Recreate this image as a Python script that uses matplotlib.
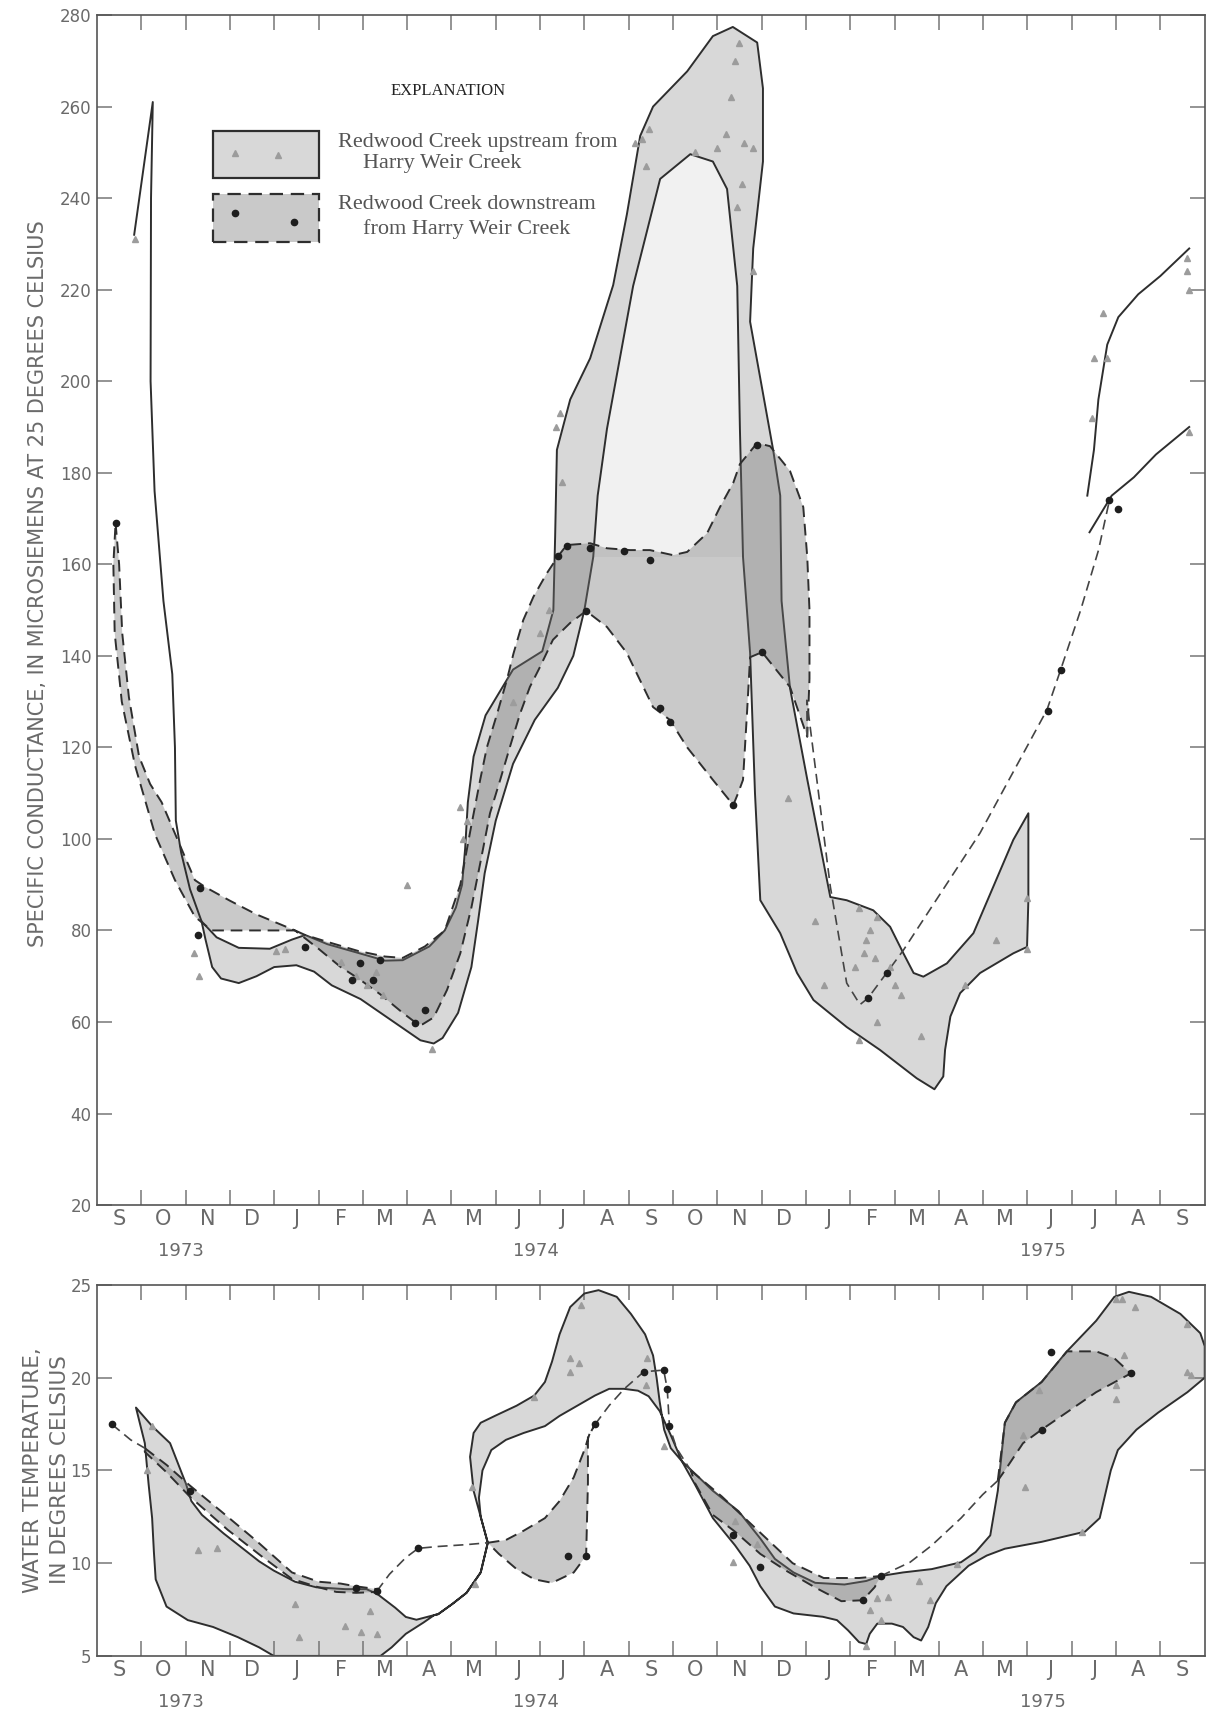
import matplotlib

matplotlib.use("Agg")
import matplotlib.pyplot as plt
from matplotlib.transforms import blended_transform_factory
import numpy as np

plt.rcParams["font.family"] = ["Liberation Sans Narrow", "DejaVu Sans"]

# x unit: months since 1 Sep 1973 (0..25)
MONTHS = list("SONDJFMAMJJASONDJFMAMJJAS")
YEARS = ["1973", "1974", "1975"]
YEAR_X = [1.9, 9.9, 21.35]

# ---------------- specific conductance (top panel) ----------------
COND_TICKS = list(range(20, 281, 20))

# early single line, upstream site (Sep-Nov 1973)
UP_SPIKE = [(0.84, 232), (1.26, 261), (1.22, 240), (1.21, 200), (1.3, 176), (1.5, 152),
            (1.7, 136), (1.76, 120), (1.78, 104), (1.9, 97), (2.1, 89), (2.36, 82)]

# upstream envelope: upper edge left->right, lower edge back
UP_BAND = [(2.36, 82), (2.7, 78.5), (3.2, 76.2), (3.9, 76.0), (4.4, 78.0), (4.7, 79.0), (5.2, 77.0),
           (6.0, 74.8), (6.5, 73.4), (6.9, 73.5), (7.5, 76.5), (7.85, 80.0), (8.1, 85.0), (8.24, 90.0),
           (8.31, 98.0), (8.37, 108.0), (8.5, 118.0), (8.77, 127.0), (9.39, 137.0), (10.05, 141.0),
           (10.3, 150.0), (10.34, 166.0), (10.38, 185.0), (10.68, 196.0), (11.13, 205.0), (11.65, 221.0),
           (11.96, 236.5), (12.26, 253.6), (12.55, 260.0), (13.32, 267.7), (13.9, 275.4), (14.35, 277.4),
           (14.9, 274.0), (15.03, 264.0), (15.03, 248.0), (14.81, 229.0), (14.74, 213.0), (15.03, 197.4),
           (15.26, 185.0), (15.42, 175.0), (15.45, 152.0), (15.64, 133.0), (16.03, 113.0), (16.55, 87.3),
           (16.92, 86.6), (17.52, 84.4), (17.9, 80.8), (18.2, 75.0), (18.43, 70.7), (18.65, 69.9),
           (19.18, 72.8), (19.78, 79.4), (20.23, 89.6), (20.68, 99.8), (21.02, 105.6),
           (21.02, 86.6), (20.99, 76.4), (20.68, 75.0), (19.93, 70.7), (19.48, 66.3), (19.26, 61.2),
           (19.14, 53.9), (19.1, 48.1), (18.9, 45.3), (18.5, 47.7), (17.67, 53.9), (16.92, 58.9),
           (16.17, 64.8), (15.8, 70.7), (15.42, 79.4), (14.97, 86.6), (14.85, 110.0), (14.74, 140.6),
           (14.58, 161.6), (14.51, 189.6), (14.45, 220.8), (14.22, 242.0), (13.9, 248.0), (13.39, 249.6),
           (12.71, 244.2), (12.1, 220.8), (11.51, 189.6), (11.3, 175.0), (11.2, 161.6), (11.0, 150.0),
           (10.75, 140.0), (10.4, 133.0), (9.88, 126.0), (9.39, 116.4), (9.0, 104.0), (8.75, 92.5),
           (8.6, 82.0), (8.45, 72.0), (8.15, 62.0), (7.8, 56.5), (7.6, 55.3), (7.3, 56.0), (6.7, 60.0),
           (5.95, 65.0), (5.3, 68.0), (4.9, 71.0), (4.5, 72.4), (4.0, 72.0), (3.6, 70.0), (3.2, 68.5),
           (2.8, 69.5), (2.6, 72.0), (2.45, 78.0)]

# pale interior of the 1974 peak
UP_INNER = [(11.2, 161.6), (11.3, 175.0), (11.51, 189.6), (12.1, 220.8), (12.71, 244.2), (13.39, 249.6),
            (13.9, 248.0), (14.22, 242.0), (14.45, 220.8), (14.51, 189.6), (14.58, 161.6)]

UP_LINE_A = [(22.35, 175), (22.5, 185), (22.6, 196), (22.8, 208), (23.05, 214), (23.5, 219),
             (24.0, 223), (24.65, 229)]
UP_LINE_B = [(22.4, 167), (22.9, 175), (23.4, 179), (23.9, 184), (24.65, 190)]

# downstream envelopes
DN_BAND_1 = [(0.42, 169.0), (0.5, 160.0), (0.57, 145.0), (0.72, 131.0), (0.95, 118.0), (1.2, 112.0),
             (1.46, 108.0), (1.9, 98.0), (2.21, 91.0), (2.44, 89.5), (3.0, 86.5), (3.6, 83.5), (4.47, 80.0),
             (3.5, 80.0), (2.59, 80.0), (2.21, 83.0), (1.76, 91.0), (1.31, 101.0), (0.86, 116.0),
             (0.56, 130.0), (0.4, 145.0), (0.37, 160.0)]

DN_BAND_2 = [(4.47, 80.0), (4.7, 79.0), (5.2, 77.5), (5.9, 75.5), (6.5, 74.3), (6.9, 74.0), (7.4, 76.5),
             (7.85, 80.0), (8.2, 90.0), (8.45, 103.0), (8.65, 113.0), (8.8, 120.0), (9.02, 127.0),
             (9.25, 134.7), (9.4, 140.5), (9.62, 147.8), (9.85, 152.9), (10.15, 158.0), (10.41, 161.8),
             (10.6, 164.2), (11.13, 164.6), (11.51, 163.5), (12.03, 163.1), (12.48, 163.1), (13.0, 162.0),
             (13.32, 162.7), (13.77, 166.8), (14.06, 172.5), (14.36, 177.8), (14.51, 181.9), (14.9, 186.5),
             (15.19, 185.8), (15.64, 180.4), (15.94, 172.5), (16.03, 161.6), (16.08, 150.0), (16.08, 135.0),
             (16.03, 122.3), (15.64, 133.2), (15.01, 140.8), (14.74, 139.7), (14.67, 127.5), (14.58, 112.9),
             (14.47, 110.0), (14.36, 107.4), (13.9, 112.9), (13.32, 120.0), (12.93, 126.0), (12.55, 128.8),
             (11.96, 140.6), (11.51, 146.3), (11.04, 149.8), (10.68, 147.2), (10.29, 143.5), (10.0, 137.6),
             (9.77, 133.2), (9.55, 127.4), (9.32, 120.1), (9.1, 112.9), (8.87, 105.6), (8.65, 94.7),
             (8.45, 85.0), (8.2, 75.0), (7.9, 67.0), (7.6, 61.0), (7.35, 59.5), (7.2, 59.8), (6.9, 62.0),
             (6.4, 66.0), (5.9, 69.5), (5.5, 72.0), (5.0, 76.0)]

DN_LINE = [(16.03, 122.3), (16.02, 130.3), (16.55, 89.6), (16.92, 68.5), (17.22, 63.8), (17.4, 65.2),
           (17.82, 70.7), (18.2, 75.7), (19.93, 101.3), (21.44, 128.2), (21.75, 137.0), (22.2, 150.0),
           (22.6, 163.0), (22.85, 174.0)]

COND_UP_PTS = [(0.85, 231), (2.2, 75), (2.3, 70), (4.05, 75.5), (4.25, 76), (5.5, 73), (5.85, 70),
               (6.1, 68), (6.3, 71), (6.45, 66), (7.55, 54), (7.0, 90), (8.2, 107), (8.35, 104),
               (8.25, 100), (9.4, 130), (10.0, 145), (10.2, 150), (10.35, 190), (10.45, 193), (10.5, 178),
               (12.15, 252), (12.3, 253), (12.45, 255), (12.4, 247), (13.5, 250), (14.0, 251), (14.2, 254),
               (14.6, 252), (14.8, 251), (14.55, 243), (14.45, 238), (14.3, 262), (14.4, 270), (14.5, 274),
               (14.8, 224), (15.6, 109), (16.2, 82), (16.4, 68), (17.2, 85), (17.6, 83), (17.35, 78),
               (17.45, 80), (17.3, 75), (17.55, 74), (17.1, 72), (17.9, 72), (18.0, 68), (18.15, 66),
               (17.2, 56), (17.6, 60), (18.6, 57), (19.6, 68), (20.3, 78), (21.0, 76), (21.0, 87),
               (22.45, 192), (22.5, 205), (22.7, 215), (22.8, 205), (24.6, 227), (24.65, 220),
               (24.6, 224), (24.65, 189)]
COND_DN_PTS = [(0.42, 169), (2.33, 89.3), (2.29, 79), (4.7, 76.4), (5.94, 72.8), (6.39, 73.5),
               (5.75, 69.2), (6.24, 69.2), (7.18, 59.8), (7.4, 62.6), (10.41, 161.8), (10.6, 164),
               (11.13, 163.5), (11.9, 162.8), (12.48, 161), (12.71, 128.6), (12.93, 125.5), (11.04, 149.8),
               (14.36, 107.4), (14.9, 186), (15.01, 140.8), (17.4, 65.2), (17.82, 70.6), (21.46, 128),
               (21.75, 137), (22.85, 174), (23.05, 172)]

# ---------------- water temperature (bottom panel) ----------------
TEMP_TICKS = [5, 10, 15, 20, 25]

TEMP_UP_BAND = [(0.88, 18.39), (1.245, 17.39), (1.65, 16.47), (1.89, 15.0), (2.01, 14.27), (2.13, 13.35),
                (2.37, 12.6), (2.86, 11.6), (3.34, 10.7), (3.66, 10.1), (3.99, 9.6), (4.47, 9.0),
                (4.95, 8.7), (5.28, 8.65), (5.6, 8.6), (6.08, 8.6), (6.32, 8.35), (6.73, 7.6),
                (6.97, 7.1), (7.21, 6.95), (7.53, 7.15), (7.7, 7.25), (8.02, 7.8), (8.34, 8.4),
                (8.66, 9.5), (8.82, 11.1), (8.66, 12.5), (8.5, 13.9), (8.42, 15.73), (8.5, 17.02),
                (8.66, 17.57), (8.98, 17.94), (9.47, 18.49), (9.87, 19.04), (10.11, 19.77), (10.27, 20.87),
                (10.44, 22.34), (10.68, 23.81), (11.0, 24.54), (11.32, 24.72), (11.73, 24.36), (12.05, 23.44),
                (12.37, 22.34), (12.55, 21.2), (12.63, 20.0), (12.7, 18.7), (12.8, 17.2), (12.95, 16.2),
                (13.2, 15.5), (13.9, 13.9), (14.48, 12.8), (14.97, 11.33), (15.3, 10.23), (15.72, 9.5),
                (16.21, 8.94), (16.87, 8.85), (17.36, 9.04), (17.69, 9.31), (18.19, 9.5), (18.84, 9.68),
                (19.5, 10.05), (19.83, 10.6), (20.16, 11.5), (20.33, 13.9), (20.49, 17.57), (20.74, 18.67),
                (21.32, 19.77), (21.89, 21.42), (22.55, 23.07), (22.96, 24.36), (23.29, 24.63),
                (23.79, 24.36), (24.45, 23.44), (24.9, 22.4), (25.0, 21.7),
                (25.0, 20.0), (24.61, 19.22), (23.95, 18.12), (23.46, 17.2), (23.04, 16.1), (22.88, 15.0),
                (22.63, 12.43), (22.3, 11.7), (21.32, 11.15), (20.49, 10.78), (20.08, 10.41), (19.67, 9.86),
                (19.42, 9.31), (19.17, 8.76), (18.93, 7.84), (18.76, 6.56), (18.6, 5.83), (18.43, 6.01),
                (18.19, 6.56), (17.94, 6.74), (17.61, 6.74), (17.44, 6.19), (17.36, 5.64), (17.2, 5.74),
                (16.95, 6.38), (16.7, 6.93), (16.38, 7.11), (15.72, 7.29), (15.3, 7.66), (14.97, 8.76),
                (14.73, 9.86), (14.4, 10.96), (13.9, 12.43), (13.49, 14.27), (13.2, 15.5), (12.95, 16.9),
                (12.7, 18.2), (12.45, 19.0), (12.21, 19.3), (11.89, 19.4), (11.56, 19.4), (11.24, 19.04),
                (10.84, 18.49), (10.44, 17.94), (10.11, 17.39), (9.63, 17.02), (9.23, 16.65), (8.9, 16.1),
                (8.7, 15.0), (8.62, 13.53), (8.66, 12.5), (8.82, 11.1), (8.66, 9.5), (8.34, 8.4),
                (8.02, 7.8), (7.7, 7.25), (7.61, 7.2), (7.37, 6.8), (6.97, 6.19), (6.65, 5.46),
                (6.4, 5.0), (3.99, 5.0), (3.66, 5.46), (3.18, 6.01), (2.62, 6.56), (2.05, 6.93),
                (1.57, 7.66), (1.325, 9.13), (1.285, 10.6), (1.245, 12.43), (1.165, 14.27), (1.08, 16.47)]

TEMP_DN_BANDS = [
    [(1.08, 16.2), (1.57, 15.3), (2.09, 14.2), (2.8, 12.8), (3.6, 11.2), (4.4, 9.5), (5.0, 9.0),
     (5.5, 8.9), (5.85, 8.75), (6.32, 8.6), (6.32, 8.45), (5.85, 8.4), (5.4, 8.45), (5.0, 8.7),
     (4.4, 9.15), (3.7, 10.4), (2.95, 11.8), (2.09, 13.6), (1.57, 14.9), (1.08, 16.0)],
    [(8.82, 11.1), (9.23, 11.25), (9.63, 11.75), (10.11, 12.43), (10.44, 13.35), (10.76, 14.63),
     (11.0, 16.1), (11.12, 17.0), (11.24, 17.48), (11.08, 16.8), (11.08, 14.3), (11.06, 12.4),
     (11.04, 10.4), (10.76, 9.5), (10.27, 8.94), (9.87, 9.13), (9.47, 9.68), (9.07, 10.5)],
    [(13.4, 15.0), (14.1, 13.6), (14.9, 11.8), (15.7, 10.0), (16.4, 9.2), (17.2, 9.2), (17.69, 9.31),
     (17.55, 8.7), (17.28, 8.0), (16.8, 7.95), (16.2, 8.7), (15.55, 9.6), (14.97, 10.5), (14.4, 11.7),
     (13.9, 12.6), (13.5, 14.3)],
    [(20.33, 14.45), (20.49, 17.57), (20.74, 18.67), (21.32, 19.77), (21.89, 21.42), (22.55, 21.42),
     (22.96, 21.05), (23.33, 20.23), (22.55, 19.22), (21.32, 17.2), (20.9, 16.47), (20.49, 15.0)],
]
TEMP_DN_LINES = [
    [(0.34, 17.48), (0.76, 16.65), (1.08, 16.2)],
    [(6.32, 8.5), (6.6, 9.4), (6.97, 10.3), (7.25, 10.8), (7.7, 10.9), (8.34, 11.0), (8.82, 11.1)],
    [(11.24, 17.48), (11.56, 18.5), (11.9, 19.4), (12.34, 20.32), (12.79, 20.41), (12.87, 19.4),
     (12.92, 17.38), (13.08, 16.2), (13.4, 15.0)],
    [(17.69, 9.31), (18.35, 10.05), (18.84, 10.96), (19.5, 12.43), (19.99, 13.7), (20.33, 14.45)],
]

TEMP_UP_PTS = [(1.245, 17.4), (1.12, 15.0), (2.29, 10.7), (2.7, 10.8), (4.47, 7.8), (4.55, 6.0),
               (5.6, 6.6), (5.96, 6.3), (6.32, 6.2), (6.16, 7.4), (8.54, 8.9), (8.46, 14.1),
               (10.68, 21.05), (10.88, 20.8), (10.68, 20.3), (9.87, 18.95), (10.92, 23.9), (12.41, 21.05),
               (12.38, 19.58), (12.79, 16.3), (14.4, 12.25), (14.89, 11.05), (14.36, 10.05), (17.61, 8.12),
               (17.86, 8.2), (17.44, 7.48), (17.36, 5.55), (17.69, 6.93), (18.56, 9.04), (18.8, 8.03),
               (19.42, 9.95), (20.94, 14.1), (20.9, 16.93), (21.27, 19.31), (22.22, 11.7), (23.0, 24.27),
               (23.13, 24.27), (23.42, 23.81), (23.0, 19.59), (23.0, 18.85), (23.17, 21.24), (24.61, 22.89),
               (24.69, 20.14), (24.61, 20.32)]
TEMP_DN_PTS = [(0.34, 17.48), (2.09, 13.9), (5.85, 8.65), (6.32, 8.5), (7.25, 10.8), (10.64, 10.41),
               (11.04, 10.41), (11.24, 17.48), (12.34, 20.32), (12.79, 20.41), (12.87, 19.4),
               (12.92, 17.38), (14.36, 11.5), (14.97, 9.8), (17.28, 8.0), (17.69, 9.31), (21.52, 21.37),
               (23.33, 20.23), (21.32, 17.2)]

EDGE = "#2e2e2e"
TXT = "#6a6a6a"
UP_FACE = (0.45, 0.45, 0.45, 0.28)
DN_FACE = (0.45, 0.45, 0.45, 0.38)
DASH = (0, (6, 3.5))


def xy(points):
    arr = np.asarray(points, dtype=float)
    return arr[:, 0], arr[:, 1]


def band(ax, points, face, dashed=False):
    x, y = xy(points)
    ax.fill(x, y, facecolor=face, edgecolor=EDGE, linewidth=1.4,
            linestyle=DASH if dashed else "-", joinstyle="round", zorder=2)


def line(ax, points, dashed=False, lw=1.4, color=EDGE):
    x, y = xy(points)
    ax.plot(x, y, color=color, linewidth=lw, linestyle=DASH if dashed else "-", zorder=3)


def marks(ax, up_pts, dn_pts):
    x, y = xy(up_pts)
    ax.plot(x, y, "^", markersize=5, color="#9c9c9c", linestyle="none", zorder=4)
    x, y = xy(dn_pts)
    ax.plot(x, y, "o", markersize=4.5, color="#1e1e1e", linestyle="none", zorder=4)


def style_axis(ax, ymin, ymax, yticks, year_y):
    ax.set_xlim(0, 25)
    ax.set_ylim(ymin, ymax)
    ax.set_xticks(np.arange(1, 25))
    ax.set_xticklabels([])
    ax.set_xticks(np.arange(0.5, 25, 1), minor=True)
    ax.set_xticklabels(MONTHS, minor=True)
    ax.set_yticks(yticks)
    ax.set_yticklabels([str(t) for t in yticks])
    ax.tick_params(axis="x", which="major", direction="in", length=11, width=1.1, color="#777",
                   top=True, bottom=True)
    ax.tick_params(axis="x", which="minor", length=0, pad=3, labelsize=15, labelcolor=TXT)
    ax.tick_params(axis="y", direction="in", length=11, width=1.1, color="#777", left=True,
                   right=True, labelsize=12, labelcolor=TXT, pad=4)
    for spine in ax.spines.values():
        spine.set_color("#555")
        spine.set_linewidth(1.2)
    trans = blended_transform_factory(ax.transData, ax.transAxes)
    for label, xpos in zip(YEARS, YEAR_X):
        ax.text(xpos, year_y, label, transform=trans, ha="center", va="center", fontsize=13, color=TXT)


fig = plt.figure(figsize=(12.12, 17.11), dpi=100)
ax1 = fig.add_axes([0.080, 0.2957, 0.914, 0.6955])
ax2 = fig.add_axes([0.080, 0.0322, 0.914, 0.2168])

# top panel
x, y = xy(UP_INNER)
ax1.fill(x, y, facecolor="#f1f1f1", edgecolor="none", zorder=1)
band(ax1, UP_BAND, UP_FACE)
band(ax1, DN_BAND_1, DN_FACE, dashed=True)
band(ax1, DN_BAND_2, DN_FACE, dashed=True)
line(ax1, UP_SPIKE)
line(ax1, UP_LINE_A)
line(ax1, UP_LINE_B)
line(ax1, DN_LINE, dashed=True, lw=1.2, color="#444")
marks(ax1, COND_UP_PTS, COND_DN_PTS)
style_axis(ax1, 20, 280, COND_TICKS, -0.0387)

# legend ("EXPLANATION")
tr = ax1.transAxes
ax1.add_patch(plt.Rectangle((0.1047, 0.8630), 0.0957, 0.0395, transform=tr, facecolor=UP_FACE,
                            edgecolor=EDGE, linewidth=1.6, zorder=5))
ax1.add_patch(plt.Rectangle((0.1047, 0.8092), 0.0957, 0.0404, transform=tr, facecolor=DN_FACE,
                            edgecolor=EDGE, linewidth=1.6, linestyle=DASH, zorder=5))
ax1.plot([0.125, 0.163], [0.884, 0.882], "^", markersize=5, color="#9c9c9c", transform=tr, zorder=6)
ax1.plot([0.125, 0.178], [0.834, 0.826], "o", markersize=4.5, color="#1e1e1e", transform=tr, zorder=6)
serif = ["Liberation Serif", "DejaVu Serif"]
ax1.text(0.3168, 0.9366, "EXPLANATION", transform=tr, ha="center", va="center", fontsize=12,
         color="#222", family=serif)
ax1.text(0.2175, 0.8933, "Redwood Creek upstream from", transform=tr, ha="left", va="center",
         fontsize=16, color="#555", family=serif)
ax1.text(0.240, 0.8751, "Harry Weir Creek", transform=tr, ha="left", va="center", fontsize=16,
         color="#555", family=serif)
ax1.text(0.2175, 0.8412, "Redwood Creek downstream", transform=tr, ha="left", va="center",
         fontsize=16, color="#555", family=serif)
ax1.text(0.240, 0.8202, "from Harry Weir Creek", transform=tr, ha="left", va="center",
         fontsize=16, color="#555", family=serif)

# bottom panel
band(ax2, TEMP_UP_BAND, UP_FACE)
for poly in TEMP_DN_BANDS:
    band(ax2, poly, DN_FACE, dashed=True)
for seg in TEMP_DN_LINES:
    line(ax2, seg, dashed=True, lw=1.2, color="#444")
marks(ax2, TEMP_UP_PTS, TEMP_DN_PTS)
style_axis(ax2, 5, 25, TEMP_TICKS, -0.124)

fig.text(38 / 1212, 1 - 584 / 1711, "SPECIFIC CONDUCTANCE, IN MICROSIEMENS AT 25 DEGREES CELSIUS",
         rotation=90, ha="center", va="center", fontsize=15, color=TXT)
fig.text(33 / 1212, 1 - 1470 / 1711, "WATER TEMPERATURE,", rotation=90, ha="center", va="center",
         fontsize=15.5, color=TXT)
fig.text(60 / 1212, 1 - 1470 / 1711, "IN DEGREES CELSIUS", rotation=90, ha="center", va="center",
         fontsize=15.5, color=TXT)

fig.savefig("out.png", dpi=100)
